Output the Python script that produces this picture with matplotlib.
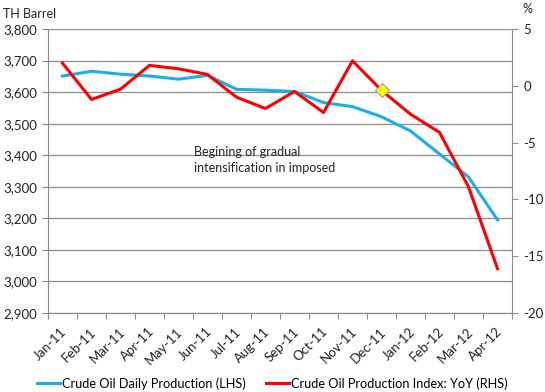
import matplotlib
matplotlib.use('Agg')
import matplotlib.pyplot as plt
import matplotlib.transforms as mtransforms
from matplotlib.lines import Line2D

plt.rcParams['font.family'] = ['Lato', 'DejaVu Sans']
plt.rcParams['axes.unicode_minus'] = False

# months on the x axis
months = ['Jan-11', 'Feb-11', 'Mar-11', 'Apr-11', 'May-11', 'Jun-11', 'Jul-11', 'Aug-11',
          'Sep-11', 'Oct-11', 'Nov-11', 'Dec-11', 'Jan-12', 'Feb-12', 'Mar-12', 'Apr-12']
# crude oil daily production, th barrel (LHS)
production = [3651, 3666, 3657, 3651, 3641, 3653, 3609, 3606,
              3602, 3567, 3554, 3522, 3477, 3404, 3331, 3195]
# production index yoy, % (RHS)
index_yoy = [2.0, -1.2, -0.3, 1.8, 1.5, 1.0, -1.0, -2.0,
             -0.5, -2.35, 2.2, -0.4, -2.5, -4.1, -8.9, -16.1]
marker_month = 'Dec-11'
note = 'Begining of gradual\nintensification in imposed'

blue = '#1AAFE6'
red = '#FF0000'
grey = '#8C8C8C'
txt = '#222222'

fig = plt.figure(figsize=(5.45, 3.92), dpi=100)
ax = fig.add_axes([0.088, 0.2015, 0.8515, 0.7245])
ax2 = ax.twinx()

x = list(range(len(months)))
ax.plot(x, production, color=blue, lw=2.2, zorder=3)
ax2.plot(x, index_yoy, color=red, lw=2.2, zorder=3)
mi = months.index(marker_month)
ax2.plot([mi], [index_yoy[mi]], marker='D', ms=7, color='#FFFF00', mec='#A0A0A0', mew=0.8, zorder=4)

ax.set_xlim(-0.5, len(months) - 0.5)
ax.set_ylim(2900, 3800)
ax.set_yticks(range(2900, 3801, 100))
ax.set_yticklabels([format(v, ',') for v in range(2900, 3801, 100)])
ax2.set_ylim(-20, 5)
ax2.set_yticks(range(-20, 6, 5))

# gridlines on the left axis ticks
ax.grid(axis='y', color=grey, lw=0.9)
ax.set_axisbelow(True)

# x ticks: marks between months, labels on months
ax.set_xticks([i - 0.5 for i in range(len(months) + 1)])
ax.set_xticklabels([])
ax.set_xticks(x, minor=True)
ax.set_xticklabels(months, minor=True, rotation=45, ha='right', rotation_mode='anchor')
ax.tick_params(axis='x', which='major', length=4, color=grey)
ax.tick_params(axis='x', which='minor', length=0, pad=9, labelsize=9.5, colors=txt)
shift = mtransforms.ScaledTranslation(-2 / 100, 0, fig.dpi_scale_trans)
for lab in ax.get_xticklabels(minor=True):
    lab.set_transform(lab.get_transform() + shift)
ax.tick_params(axis='y', length=4, color=grey, labelsize=9.5, colors=txt)
ax2.tick_params(axis='y', length=4, color=grey, labelsize=9.5, colors=txt, pad=4)

for a in (ax, ax2):
    a.spines['top'].set_visible(False)
    for s in ('left', 'right', 'bottom'):
        a.spines[s].set_color(grey)
ax2.spines['left'].set_visible(False)
ax.spines['right'].set_visible(False)

fig.text(0.006, 0.965, 'TH Barrel', fontsize=9, color=txt, va='center')
fig.text(0.958, 0.978, '%', fontsize=9, color=txt, va='center')
ax.text(4.55, 3385, note, fontsize=9, color=txt, va='center', linespacing=1.45)

handles = [Line2D([], [], color=blue, lw=2.2), Line2D([], [], color=red, lw=2.2)]
fig.legend(handles, ['Crude Oil Daily Production (LHS)', 'Crude Oil Production Index: YoY (RHS)'],
           loc='center', bbox_to_anchor=(0.5, 0.022), ncol=2, frameon=False,
           fontsize=9.2, handlelength=1.8, handletextpad=0.15, columnspacing=1.6)

fig.savefig('out.png', dpi=100)
